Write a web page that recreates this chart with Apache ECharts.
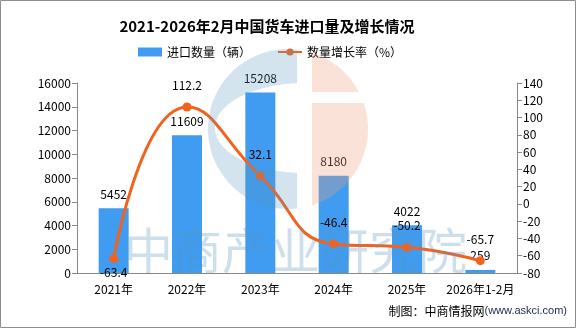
<!DOCTYPE html>
<html>
<head>
<meta charset="utf-8">
<script src="https://cdn.jsdelivr.net/npm/echarts@6/dist/echarts.min.js"></script>
<style>
  html, body { margin: 0; padding: 0; background: #fff; }
  #chart { width: 576px; height: 328px; }
</style>
</head>
<body>
<div id="chart"></div>
<script>
// Truck imports into China, 2021 to Feb 2026
const categories = ['2021年', '2022年', '2023年', '2024年', '2025年', '2026年1-2月'];
const importVolume = [5452, 11609, 15208, 8180, 4022, 259];      // vehicles
const growthRate = [-63.4, 112.2, 32.1, -46.4, -50.2, -65.7];    // %

const leftAxis = { min: 0, max: 16000, interval: 2000 };
const rightAxis = { min: -80, max: 140, interval: 20 };

const FONT = '"Noto Sans CJK SC", "Noto Sans", sans-serif';

// Outline helpers for the publisher mark (circle split into a "C" and two slices)
const LOGO = { cx: 288, cy: 129, r: 80 };
function arcPoints(cx, cy, rx, ry, a0, a1, n) {
  const pts = [];
  for (let i = 0; i <= n; i++) {
    const a = a0 + (a1 - a0) * i / n;
    pts.push([cx + rx * Math.cos(a), cy + ry * Math.sin(a)]);
  }
  return pts;
}
function logoC() {
  const { cx, cy, r } = LOGO;
  const xCut = 297;
  const aTop = Math.atan2(-Math.sqrt(r * r - (xCut - cx) ** 2), xCut - cx);
  const aBot = -aTop;
  // outer arc: top -> left -> bottom
  const outer = arcPoints(cx, cy, r, r, aTop, aBot - 2 * Math.PI, 90);
  // inner elliptical hole: bottom -> left -> top
  const ex = 305, ey = 128, erx = 90, ery = 45;
  const t = Math.acos((xCut - ex) / erx);
  const inner = arcPoints(ex, ey, erx, ery, t, 2 * Math.PI - t, 90);
  return outer.concat(inner);
}
function logoSlice(yFrom, yTo) {
  const { cx, cy, r } = LOGO;
  const xCut = 312;
  const pts = [];
  const n = 60;
  for (let i = 0; i <= n; i++) {
    const y = yFrom + (yTo - yFrom) * i / n;
    const dy = y - cy;
    const dx = Math.sqrt(Math.max(0, r * r - dy * dy));
    pts.push([Math.max(xCut, cx + dx), y]);
  }
  pts.push([xCut, yTo]);
  pts.push([xCut, yFrom]);
  return pts;
}

const chart = echarts.init(document.getElementById('chart'), null, { renderer: 'canvas' });

chart.setOption({
  backgroundColor: '#ffffff',
  animation: false,
  textStyle: { fontFamily: FONT },
  title: {
    text: '2021-2026年2月中国货车进口量及增长情况',
    left: 262,
    textAlign: 'center',
    top: 14,
    textStyle: { fontSize: 15, fontWeight: 'bold', color: '#000', fontFamily: FONT }
  },
  legend: {
    left: 133,
    top: 41,
    itemWidth: 24,
    itemHeight: 9,
    itemGap: 26,
    textStyle: { fontSize: 12, color: '#000', fontFamily: FONT },
    data: [
      { name: '进口数量（辆）', icon: 'rect' },
      { name: '数量增长率（%）' }
    ]
  },
  grid: { left: 77, right: 59, top: 83, bottom: 55 },
  xAxis: {
    type: 'category',
    data: categories,
    axisLine: { lineStyle: { color: '#888', width: 1 } },
    axisTick: { alignWithLabel: false, length: 5, lineStyle: { color: '#888' } },
    axisLabel: { interval: 0, color: '#000', fontSize: 12, margin: 10 }
  },
  yAxis: [
    {
      type: 'value',
      min: leftAxis.min, max: leftAxis.max, interval: leftAxis.interval,
      axisLine: { show: true, lineStyle: { color: '#888' } },
      axisTick: { show: true, length: 5, lineStyle: { color: '#888' } },
      axisLabel: { color: '#000', fontSize: 12, margin: 6, formatter: v => String(v) },
      splitLine: { show: false }
    },
    {
      type: 'value',
      min: rightAxis.min, max: rightAxis.max, interval: rightAxis.interval,
      axisLine: { show: true, lineStyle: { color: '#888' } },
      axisTick: { show: true, length: 5, lineStyle: { color: '#888' } },
      axisLabel: { color: '#000', fontSize: 12, margin: 6, formatter: v => String(v) },
      splitLine: { show: false }
    }
  ],
  series: [
    {
      name: '进口数量（辆）',
      type: 'bar',
      yAxisIndex: 0,
      data: importVolume,
      barWidth: 30,
      itemStyle: { color: '#3f9cf0' },
      label: { show: true, position: 'top', distance: 8, color: '#000', fontSize: 12 }
    },
    {
      name: '数量增长率（%）',
      type: 'line',
      yAxisIndex: 1,
      smooth: true,
      data: growthRate.map((v, i) => i === 0
        ? { value: v, label: { position: 'bottom', distance: 3 } }
        : v),
      symbol: 'circle',
      symbolSize: 9,
      lineStyle: { color: '#f2621f', width: 3 },
      itemStyle: { color: '#f2621f' },
      label: { show: true, position: 'top', distance: 11, color: '#000', fontSize: 12 }
    }
  ],
  graphic: [
    {
      type: 'polygon',
      z: 100,
      silent: true,
      shape: { points: logoC() },
      style: { fill: 'rgba(90,150,190,0.26)' }
    },
    {
      type: 'polygon',
      z: 100,
      silent: true,
      shape: { points: logoSlice(52, 92) },
      style: { fill: 'rgba(240,160,125,0.3)' }
    },
    {
      type: 'polygon',
      z: 100,
      silent: true,
      shape: { points: logoSlice(103, 206) },
      style: { fill: 'rgba(240,160,125,0.3)' }
    },
    {
      type: 'text',
      z: 100,
      silent: true,
      left: 124,
      top: 226,
      style: {
        text: '中商产业研究院',
        font: '400 49px "Noto Sans CJK SC", sans-serif',
        fill: 'rgba(90,150,190,0.3)'
      }
    },
    {
      type: 'text',
      right: 9,
      top: 305,
      style: {
        text: '{a|制图：中商情报网}{b|(www.askci.com)}',
        rich: {
          a: { fontSize: 12, fill: '#000', fontFamily: FONT },
          b: { fontSize: 11, fill: '#1c2a4a', fontFamily: '"Liberation Sans", sans-serif' }
        }
      }
    },
    {
      type: 'rect',
      z: 200,
      silent: true,
      shape: { x: 0.5, y: 0.5, width: 575, height: 327 },
      style: { fill: 'none', stroke: '#8c8c8c', lineWidth: 1 }
    }
  ]
});
</script>
</body>
</html>
